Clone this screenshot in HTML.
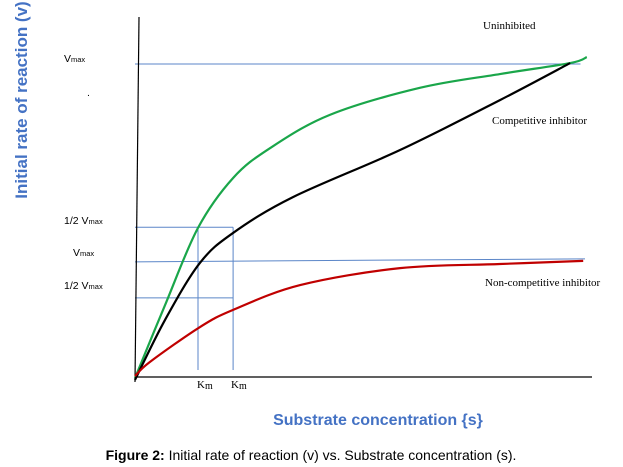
<!DOCTYPE html>
<html><head><meta charset="utf-8"><style>
body{margin:0;background:#fff;width:623px;height:467px;overflow:hidden;}
svg{display:block;}
.lab{font-family:"Liberation Serif",serif;font-size:11px;fill:#000;}
.yl{font-family:"Liberation Sans",sans-serif;font-size:10.5px;fill:#000;}
</style></head><body>
<svg id="chart" width="623" height="467" viewBox="0 0 623 467" xmlns="http://www.w3.org/2000/svg">
<g id="refs"></g>
<line x1="139" y1="17" x2="135" y2="382" stroke="#000" stroke-width="1.2"/>
<line x1="135" y1="377" x2="592" y2="377" stroke="#000" stroke-width="1.2"/>
<g id="curves"></g>
<text transform="translate(27,100) rotate(-90)" text-anchor="middle" font-family="'Liberation Sans',sans-serif" font-weight="bold" font-size="17" fill="#4472c4">Initial rate of reaction (v)</text>
<text x="378" y="425" text-anchor="middle" font-family="'Liberation Sans',sans-serif" font-weight="bold" font-size="16" fill="#4472c4">Substrate concentration {s}</text>
<text x="311" y="460" text-anchor="middle" font-family="'Liberation Sans',sans-serif" font-size="14" fill="#000"><tspan font-weight="bold">Figure 2:</tspan> Initial rate of reaction (v) vs. Substrate concentration (s).</text>
<text class="yl" x="64" y="62">V<tspan font-size="7.5">max</tspan></text>
<text class="yl" x="87" y="96">.</text>
<text class="yl" x="64" y="224">1/2 V<tspan font-size="7.5">max</tspan></text>
<text class="yl" x="73" y="256">V<tspan font-size="7.5">max</tspan></text>
<text class="yl" x="64" y="289">1/2 V<tspan font-size="7.5">max</tspan></text>
<text class="lab" x="197" y="388" font-size="12">K<tspan font-size="10" dy="1">m</tspan></text>
<text class="lab" x="231" y="388" font-size="12">K<tspan font-size="10" dy="1">m</tspan></text>
<text class="lab" x="483" y="29">Uninhibited</text>
<text class="lab" x="492" y="124">Competitive inhibitor</text>
<text class="lab" x="485" y="286">Non-competitive inhibitor</text>
</svg>
<script>
const uninhibitedS=[0,6.67,14,21.8,30,43.3,63.3,81.1,96.7,100.4];
const uninhibitedV=[0,23.2,47.8,63.7,73.2,83.8,92.4,96.8,100.3,102.2];
const competitiveS=[0,6.67,14.4,21.8,35.1,58.9,81.1,96.7];
const competitiveV=[-0.6,18.5,36.6,46.2,57.6,72.6,88.5,100.3];
const noncompetitiveS=[0,3.3,14.4,21.8,36.7,58.9,81.1,99.6];
const noncompetitiveV=[0.6,5.1,16.2,21.7,29.6,35,36.3,37.3];
const vmaxLevels=[100,37,48,25.5];
const kmValues=[14,21.8];
const sx=s=>135+s*4.5, vy=v=>378-v*3.14;
const NS="http://www.w3.org/2000/svg";
function smooth(xs,ys){
  const p=xs.map((s,i)=>[sx(s),vy(ys[i])]);
  let d="M"+p[0][0]+","+p[0][1];
  for(let i=0;i<p.length-1;i++){
    const p0=p[i-1]||p[i],p1=p[i],p2=p[i+1],p3=p[i+2]||p2;
    d+=" C"+(p1[0]+(p2[0]-p0[0])/6)+","+(p1[1]+(p2[1]-p0[1])/6)+" "+(p2[0]-(p3[0]-p1[0])/6)+","+(p2[1]-(p3[1]-p1[1])/6)+" "+p2[0]+","+p2[1];
  }
  return d;
}
const refs=document.getElementById('refs');
function line(x1,y1,x2,y2,name){
  const l=document.createElementNS(NS,'line');
  l.setAttribute('x1',x1);l.setAttribute('y1',y1);l.setAttribute('x2',x2);l.setAttribute('y2',y2);
  l.setAttribute('stroke','#5b86c8');l.setAttribute('stroke-width','1');
  
  
  refs.appendChild(l);
}
line(sx(0),vy(vmaxLevels[0]),sx(99),vy(vmaxLevels[0]),'vmax-line-uninhibited');
line(sx(0),vy(vmaxLevels[1]),sx(100),vy(vmaxLevels[1])-3,'vmax-line-noncompetitive');
line(sx(0),vy(vmaxLevels[2]),sx(kmValues[1]),vy(vmaxLevels[2]),'half-vmax-line-1');
line(sx(0),vy(vmaxLevels[3]),sx(kmValues[1]),vy(vmaxLevels[3]),'half-vmax-line-2');
kmValues.forEach((k,i)=>{line(sx(k),vy(vmaxLevels[2]),sx(k),370,'km-line-'+(i+1));});
const curves=document.getElementById('curves');
[[uninhibitedS,uninhibitedV,'#1aa64a','uninhibited-curve'],[competitiveS,competitiveV,'#000','competitive-curve'],[noncompetitiveS,noncompetitiveV,'#c00000','noncompetitive-curve']].forEach(([xs,ys,c,n])=>{
  const p=document.createElementNS(NS,'path');
  p.setAttribute('d',smooth(xs,ys));p.setAttribute('fill','none');p.setAttribute('stroke',c);p.setAttribute('stroke-width','2.2');
  
  
  curves.appendChild(p);
});
</script>
</body></html>
